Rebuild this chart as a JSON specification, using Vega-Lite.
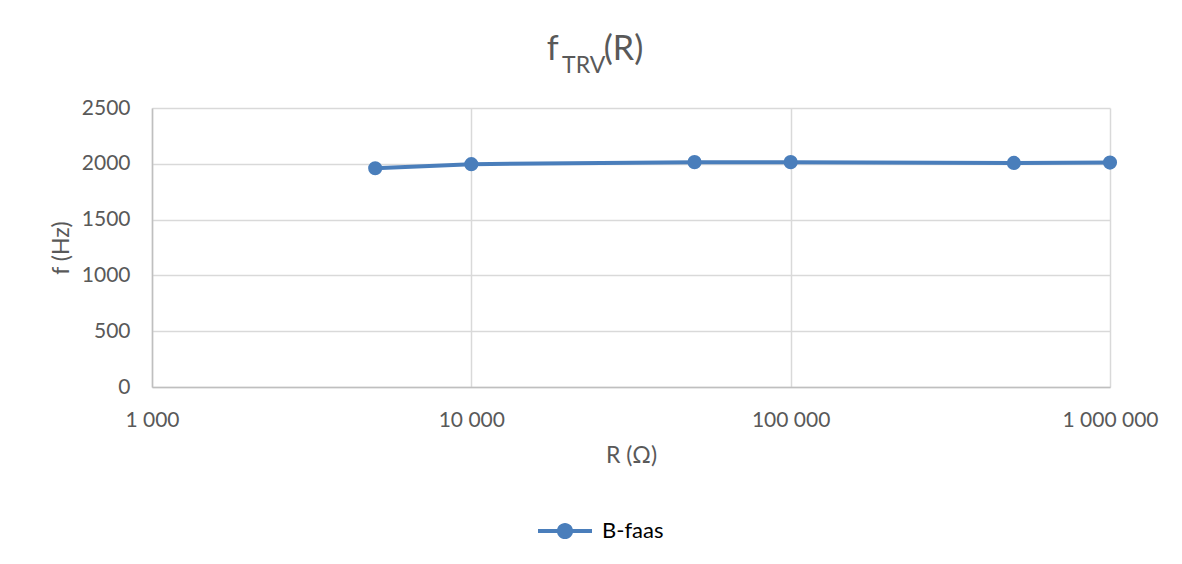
{
  "$schema": "https://vega.github.io/schema/vega-lite/v6.json",
  "autosize": {"type": "none"},
  "width": 958,
  "height": 279,
  "padding": {"left": 152, "top": 108, "right": 72, "bottom": 177},
  "background": "white",
  "title": {
    "text": "f\u2003\u00a0\u00a0\u200a(R)",
    "subtitle": "TRV\u00a0\u00a0\u00a0\u00a0\u200b",
    "anchor": "middle",
    "dx": -36,
    "offset": 19,
    "font": "Lato",
    "fontSize": 34,
    "fontWeight": "normal",
    "color": "#595959",
    "subtitleFont": "Lato",
    "subtitleFontSize": 23,
    "subtitleColor": "#595959",
    "subtitlePadding": -12
  },
  "data": {
    "values": [
      {"R": 5000, "f": 1960, "series": "B-faas"},
      {"R": 10000, "f": 1997, "series": "B-faas"},
      {"R": 50000, "f": 2015, "series": "B-faas"},
      {"R": 100000, "f": 2015, "series": "B-faas"},
      {"R": 500000, "f": 2008, "series": "B-faas"},
      {"R": 1000000, "f": 2011, "series": "B-faas"}
    ]
  },
  "mark": {"type": "line", "strokeWidth": 4, "point": {"size": 200, "filled": true, "opacity": 1}},
  "encoding": {
    "x": {
      "field": "R",
      "type": "quantitative",
      "scale": {"type": "log", "domain": [1000, 1000000], "nice": false},
      "axis": {
        "title": "R (\u03a9)",
        "values": [1000, 10000, 100000, 1000000],
        "labelExpr": "replace(format(datum.value, ',d'), /,/g, ' ')",
        "labelFlush": false,
        "labelOverlap": false,
        "ticks": false,
        "labelPadding": 22,
        "titlePadding": 14,
        "grid": true
      }
    },
    "y": {
      "field": "f",
      "type": "quantitative",
      "scale": {"domain": [0, 2500], "nice": false},
      "axis": {
        "title": "f (Hz)",
        "values": [0, 500, 1000, 1500, 2000, 2500],
        "format": "d",
        "ticks": false,
        "labelPadding": 22,
        "titlePadding": 8,
        "grid": true
      }
    },
    "color": {
      "field": "series",
      "type": "nominal",
      "scale": {"range": ["#4a7ebb"]},
      "legend": {
        "title": null,
        "orient": "none",
        "legendX": 386,
        "legendY": 396,
        "symbolType": "M-1,-0.074L-0.28,-0.074L-0.28,0.074L-1,0.074ZM0.28,-0.074L1,-0.074L1,0.074L0.28,0.074ZM0.3,0A0.3,0.3 0 1,1 -0.3,0A0.3,0.3 0 1,1 0.3,0Z",
        "symbolSize": 2916,
        "symbolStrokeWidth": 0,
        "symbolFillColor": "#4a7ebb",
        "labelFont": "Lato",
        "labelFontSize": 22,
        "labelColor": "#000000",
        "labelOffset": 10
      }
    }
  },
  "config": {
    "view": {"stroke": null},
    "axis": {
      "labelFont": "Lato",
      "labelFontSize": 21,
      "labelColor": "#595959",
      "titleFont": "Lato",
      "titleFontSize": 23,
      "titleFontWeight": "normal",
      "titleColor": "#595959",
      "gridColor": "#d9d9d9",
      "gridWidth": 1.5,
      "domainColor": "#bfbfbf",
      "domainWidth": 1.5
    }
  }
}
